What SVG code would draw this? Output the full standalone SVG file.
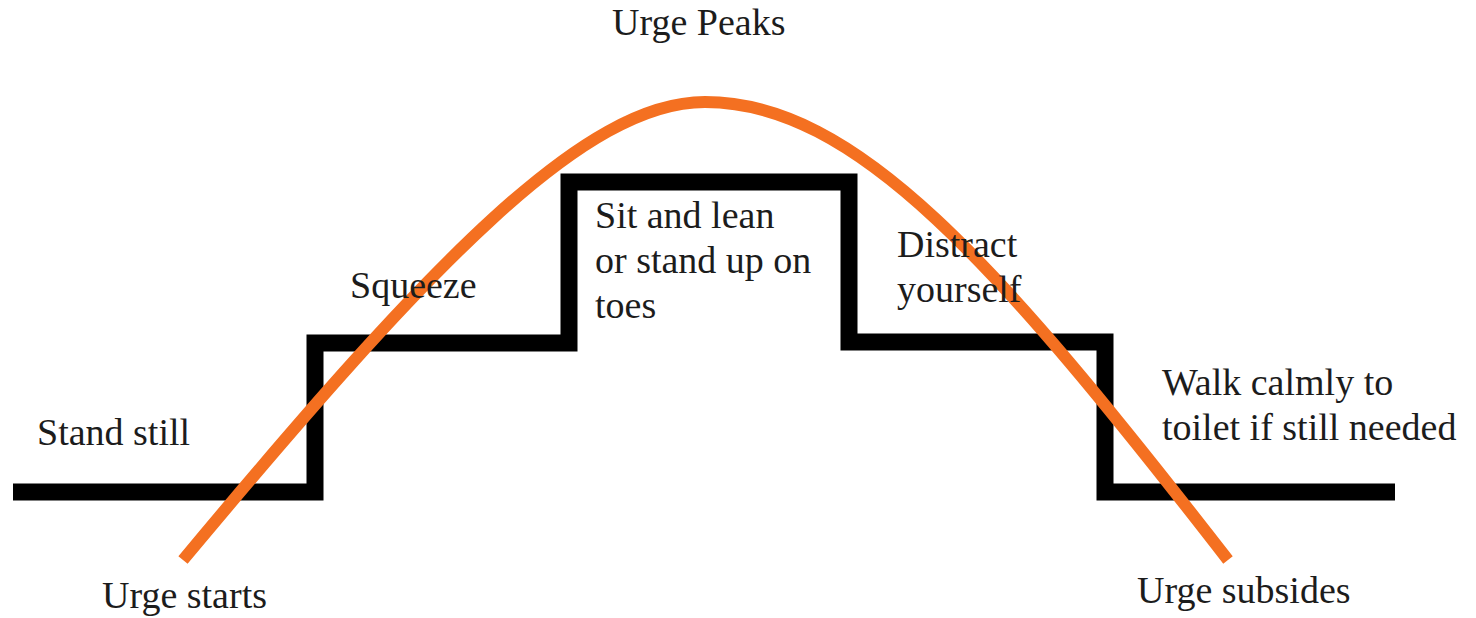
<svg xmlns="http://www.w3.org/2000/svg" width="1476" height="618" viewBox="0 0 1476 618">
  <style>
    .lbl { font-family: "Liberation Serif", "Times New Roman", serif; font-size: 38px; fill: #1c1c1c; }
    .steps { fill: none; stroke: #000; stroke-width: 17; stroke-linejoin: miter; stroke-linecap: butt; }
    .urge { fill: none; stroke: #F47021; stroke-width: 12; stroke-linecap: butt; }
  </style>
  <rect width="1476" height="618" fill="#fff"/>
  <g id="connectors">
    <path id="step-line" class="steps" d="M13,492 H315 V343 H569 V182 H849 V342 H1105 V492 H1395"/>
    <path id="urge-curve" class="urge" d="M183,560 C433,260 585,102 705,102 C855,102 996,261 1228,560"/>
  </g>
  <g id="urge-peaks"><text class="lbl" x="612" y="35">Urge Peaks</text></g>
  <g id="stand-still"><text class="lbl" x="37" y="445">Stand still</text></g>
  <g id="squeeze"><text class="lbl" x="350" y="298">Squeeze</text></g>
  <g id="sit-and-lean">
    <text class="lbl" x="595" y="228">Sit and lean</text>
    <text class="lbl" x="595" y="273">or stand up on</text>
    <text class="lbl" x="595" y="318">toes</text>
  </g>
  <g id="distract">
    <text class="lbl" x="897" y="257">Distract</text>
    <text class="lbl" x="897" y="302">yourself</text>
  </g>
  <g id="walk-calmly">
    <text class="lbl" x="1162" y="395">Walk calmly to</text>
    <text class="lbl" x="1162" y="440">toilet if still needed</text>
  </g>
  <g id="urge-starts"><text class="lbl" x="102" y="608">Urge starts</text></g>
  <g id="urge-subsides"><text class="lbl" x="1137" y="603">Urge subsides</text></g>
</svg>
